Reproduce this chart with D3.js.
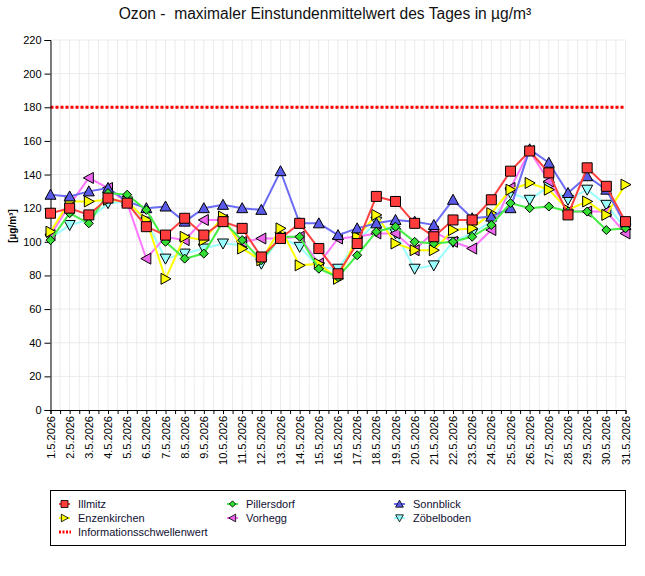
<!DOCTYPE html>
<html>
<head>
<meta charset="utf-8">
<script src="https://cdn.jsdelivr.net/npm/d3@7"></script>
<style>
  body { margin: 0; background: #fff; }
  svg text { font-family: "Liberation Sans", Arial, sans-serif; }
</style>
</head>
<body>
<svg id="chart" width="645" height="576"></svg>
<script>
// days of May 2026
var days = d3.range(1, 32);
var dayLabels = days.map(function (d) { return d + ".5.2026"; });
var yTicks = [0, 20, 40, 60, 80, 100, 120, 140, 160, 180, 200, 220];
var threshold = 180;

var illmitz      = [117, 120, 116, 126, 123, 109, 104, 114, 104, 112, 108, 91, 102, 111, 96, 81, 99, 127, 124, 111, 103, 113, 113, 125, 142, 154, 141, 116, 144, 133, 112];
var pillersdorf  = [101, 117, 111, 129, 128, 119, 100, 90, 93, 112, 101, 89, 103, 103, 84, 79, 92, 106, 109, 100, 99, 100, 103, 110, 123, 120, 121, 118, 118, 107, 108];
var sonnblick    = [128, 127, 130, 132, 124, 120, 121, 112, 120, 122, 120, 119, 142, 111, 111, 104, 108, 111, 113, 112, 110, 125, 114, 115, 120, 155, 147, 129, 139, 131, 110];
var enzenkirchen = [106, 124, 124, 125, 124, 113, 78, 103, 101, 115, 96, 89, 108, 86, 87, 78, 103, 116, 99, 95, 95, 107, 108, 117, 131, 135, 131, 119, 124, 116, 134];
var vorhegg      = [104, 122, 138, 132, 123, 90, 103, 101, 113, 113, 100, 102, 102, 103, 87, 102, 103, 105, 105, 95, 106, 100, 96, 107, 132, 154, 136, 118, 118, 118, 105];
var zoebelboden  = [102, 110, 113, 123, 124, 112, 90, 93, 96, 99, 98, 87, 103, 97, 85, 84, 100, 112, 105, 84, 86, 100, 105, 112, 129, 125, 133, 125, 131, 122, 108];

var series = [
    { name: "Illmitz", values: illmitz, line: "#ff4040", fill: "#ff3b3b", symbol: "square" },
    { name: "Pillersdorf", values: pillersdorf, line: "#44ee44", fill: "#33dd33", symbol: "diamond" },
    { name: "Sonnblick", values: sonnblick, line: "#6b6bf5", fill: "#5a5ae8", symbol: "up" },
    { name: "Enzenkirchen", values: enzenkirchen, line: "#ffff00", fill: "#ffff00", symbol: "right" },
    { name: "Vorhegg", values: vorhegg, line: "#ff77ff", fill: "#ee66ee", symbol: "left" },
    { name: "Zöbelboden", values: zoebelboden, line: "#99ffff", fill: "#99ffff", symbol: "down" }
];

var svg = d3.select("#chart");
var plotLeft = 50.5, plotRight = 625.5, plotTop = 40, plotBottom = 410;

var x = d3.scaleLinear().domain([1, 31]).range([plotLeft, plotRight]);
var y = d3.scaleLinear().domain([0, 220]).range([plotBottom, plotTop]);

// marker shapes, centred on 0,0
function symbolPath(kind) {
    switch (kind) {
        case "square": return "M-5,-5H5V5H-5Z";
        case "diamond": return "M0,-4.5L4.5,0L0,4.5L-4.5,0Z";
        case "up": return "M0,-5.5L5.5,4.5H-5.5Z";
        case "down": return "M0,5.5L5.5,-4.5H-5.5Z";
        case "right": return "M5.5,0L-4.5,5.5V-5.5Z";
        case "left": return "M-5.5,0L4.5,5.5V-5.5Z";
    }
    return "";
}

// title
svg.append("text").attr("x", 325).attr("y", 19).attr("text-anchor", "middle")
    .style("font-size", "15.6px").style("white-space", "pre").attr("fill", "#111")
    .text("Ozon -  maximaler Einstundenmittelwert des Tages in µg/m³");

// grid
var grid = svg.append("g");
var halfDays = d3.range(1, 31.01, 0.5);
grid.selectAll("line.vg").data(halfDays).enter().append("line")
    .attr("x1", function (d) { return x(d); }).attr("x2", function (d) { return x(d); })
    .attr("y1", plotTop).attr("y2", plotBottom).attr("stroke", "#ebebeb").attr("stroke-width", 1);
grid.selectAll("line.hg").data(yTicks.slice(1)).enter().append("line")
    .attr("x1", plotLeft).attr("x2", plotRight)
    .attr("y1", function (d) { return y(d); }).attr("y2", function (d) { return y(d); })
    .attr("stroke", "#ebebeb").attr("stroke-width", 1);

// threshold line
svg.append("line").attr("x1", plotLeft).attr("x2", plotRight)
    .attr("y1", y(threshold)).attr("y2", y(threshold))
    .attr("stroke", "#ff0000").attr("stroke-width", 3).attr("stroke-dasharray", "3,2");

// axes
var yAxis = d3.axisLeft(y).tickValues(yTicks).tickSize(6).tickPadding(3);
var gy = svg.append("g").attr("transform", "translate(" + plotLeft + ",0)").call(yAxis);
gy.select(".domain").attr("stroke", "#000");
gy.selectAll("text").style("font-size", "11px").attr("fill", "#000");

var xAxis = d3.axisBottom(x).tickValues(halfDays).tickSize(4).tickFormat("");
var gx = svg.append("g").attr("transform", "translate(0," + plotBottom + ")").call(xAxis);
gx.select(".domain").attr("stroke", "#000");

svg.append("g").selectAll("text").data(days).enter().append("text")
    .attr("transform", function (d) { return "translate(" + (x(d) + 4) + "," + (plotBottom + 6) + ") rotate(-90)"; })
    .attr("text-anchor", "end").style("font-size", "11px").attr("fill", "#000")
    .text(function (d, i) { return dayLabels[i]; });

svg.append("text").attr("transform", "translate(16,226) rotate(-90)")
    .attr("text-anchor", "middle").style("font-size", "10px").style("font-weight", "bold")
    .text("[µg/m³]");

// series, first one drawn on top
var line = d3.line().x(function (d, i) { return x(days[i]); }).y(function (d) { return y(d); });
series.slice().reverse().forEach(function (s) {
    var g = svg.append("g");
    g.append("path").datum(s.values).attr("d", line)
        .attr("fill", "none").attr("stroke", s.line).attr("stroke-width", 2);
    g.selectAll("path.m").data(s.values).enter().append("path")
        .attr("d", symbolPath(s.symbol))
        .attr("transform", function (d, i) { return "translate(" + x(days[i]) + "," + y(d) + ")"; })
        .attr("fill", s.fill).attr("stroke", "#000").attr("stroke-width", 1);
});

// legend
var legend = svg.append("g");
legend.append("rect").attr("x", 50.5).attr("y", 490.5).attr("width", 575).attr("height", 55)
    .attr("fill", "#fff").attr("stroke", "#000").attr("stroke-width", 1);
var colX = [59, 227, 394];
var rowY = [504, 518, 532];
series.forEach(function (s, i) {
    var cx = colX[i % 3], cy = rowY[Math.floor(i / 3)];
    legend.append("line").attr("x1", cx).attr("x2", cx + 11).attr("y1", cy).attr("y2", cy)
        .attr("stroke", s.line).attr("stroke-width", 2);
    legend.append("path").attr("d", symbolPath(s.symbol))
        .attr("transform", "translate(" + (cx + 5.5) + "," + cy + ") scale(0.7)")
        .attr("fill", s.fill).attr("stroke", "#000").attr("stroke-width", 1.2);
    legend.append("text").attr("x", cx + 19).attr("y", cy + 4).style("font-size", "11px")
        .attr("fill", "#111133").text(s.name);
});
legend.append("line").attr("x1", 59).attr("x2", 71).attr("y1", 532).attr("y2", 532)
    .attr("stroke", "#ff0000").attr("stroke-width", 3).attr("stroke-dasharray", "2,1.5");
legend.append("text").attr("x", 78).attr("y", 536).style("font-size", "11px")
    .attr("fill", "#111133").text("Informationsschwellenwert");
</script>
</body>
</html>
